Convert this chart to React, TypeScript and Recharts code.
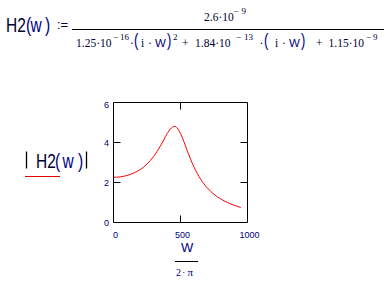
import React from 'react';
import { LineChart, Line, XAxis, YAxis } from 'recharts';

// frequency W/(2π) and |H2(w)|
const freq = [0, 50, 100, 150, 200, 250, 300, 325, 350, 375, 400, 425, 440, 450, 460, 475, 500, 525, 550, 575, 600, 625, 650, 675, 700, 750, 800, 850, 900, 950];
const magnitude = [2.26, 2.28, 2.35, 2.47, 2.65, 2.92, 3.31, 3.55, 3.83, 4.13, 4.44, 4.68, 4.77, 4.8, 4.8, 4.72, 4.45, 4.05, 3.6, 3.17, 2.78, 2.45, 2.17, 1.93, 1.73, 1.41, 1.18, 1.0, 0.86, 0.75];
const xTicks = [0, 500, 1000];
const yTicks = [0, 2, 4, 6];

const data = freq.map((f, i) => ({ f, m: magnitude[i] }));

const SANS = "'Liberation Sans', Arial, sans-serif";
const SERIF = "'Liberation Serif', 'Times New Roman', serif";
const NAVY = '#000080';
const DARK = '#000033';
const TICK = 7;

// bottom axis: props.y is the axis line (tickSize 0, tickMargin 0)
const BottomTick = (props: any) => {
  const { x, y, payload, index, visibleTicksCount } = props;
  const inner = index > 0 && index < visibleTicksCount - 1;
  return (
    <g>
      {inner && <line x1={x} x2={x} y1={y} y2={y - TICK} stroke="#000" strokeWidth={1} />}
      <text x={x + 2} y={y + 15.5} textAnchor="middle" fontSize={9} fill={NAVY} fontFamily={SANS}>
        {payload.value}
      </text>
    </g>
  );
};

const TopTick = (props: any) => {
  const { x, y, index, visibleTicksCount } = props;
  const inner = index > 0 && index < visibleTicksCount - 1;
  return inner ? <line x1={x} x2={x} y1={y} y2={y + TICK} stroke="#000" strokeWidth={1} /> : <g />;
};

const LeftTick = (props: any) => {
  const { x, y, payload, index, visibleTicksCount } = props;
  const inner = index > 0 && index < visibleTicksCount - 1;
  const shift = payload.value === 6 ? 2.5 : 0;
  return (
    <g>
      {inner && <line x1={x} x2={x + TICK} y1={y} y2={y} stroke="#000" strokeWidth={1} />}
      <text x={x - 4.5} y={y + shift} dy="0.355em" textAnchor="end" fontSize={9} fill={NAVY} fontFamily={SANS}>
        {payload.value}
      </text>
    </g>
  );
};

const RightTick = (props: any) => {
  const { x, y, index, visibleTicksCount } = props;
  const inner = index > 0 && index < visibleTicksCount - 1;
  return inner ? <line x1={x} x2={x - TICK} y1={y} y2={y} stroke="#000" strokeWidth={1} /> : <g />;
};

const Overlay = () => (
  <svg width={387} height={282} style={{ position: 'absolute', left: 0, top: 0 }}>
    {/* H2(w) := */}
    <text transform="translate(0,32) scale(1,1.35)" fontFamily={SANS} fontSize={15.5}>
      <tspan x={6} fill={DARK}>H2</tspan>
      <tspan x={26} fill={NAVY}>(</tspan>
      <tspan x={30.5} fill={NAVY}>w</tspan>
      <tspan x={45} fill={NAVY}>)</tspan>
    </text>
    <text x={57} y={29} fontFamily={SANS} fontSize={13} fill={DARK}>:=</text>

    {/* numerator */}
    <text fontFamily={SERIF} fill={DARK}>
      <tspan x={204} y={21} fontSize={11.5}>2.6·10</tspan>
      <tspan x={233.5} y={13.5} fontSize={9}>−</tspan>
      <tspan x={241.5} y={13.5} fontSize={9}>9</tspan>
    </text>
    <line x1={72} x2={384} y1={29.5} y2={29.5} stroke="#000" strokeWidth={1} />

    {/* denominator */}
    <text fontFamily={SERIF} fill={DARK} fontSize={11.5}>
      <tspan x={76} y={47}>1.25·10</tspan>
      <tspan x={113} y={39.5} fontSize={9}>−</tspan>
      <tspan x={120} y={39.5} fontSize={9}>16</tspan>
      <tspan x={130} y={47}>·</tspan>
      <tspan x={141} y={47}>i</tspan>
      <tspan x={148} y={47}>·</tspan>
      <tspan x={173} y={39.5} fontSize={9}>2</tspan>
      <tspan x={182} y={47}>+</tspan>
      <tspan x={195} y={47}>1.84·10</tspan>
      <tspan x={236} y={39.5} fontSize={9}>−</tspan>
      <tspan x={244} y={39.5} fontSize={9}>13</tspan>
      <tspan x={259.5} y={47}>·</tspan>
      <tspan x={275} y={47}>i</tspan>
      <tspan x={282} y={47}>·</tspan>
      <tspan x={316} y={47}>+</tspan>
      <tspan x={328.5} y={47}>1.15·10</tspan>
      <tspan x={366} y={39.5} fontSize={9}>−</tspan>
      <tspan x={373} y={39.5} fontSize={9}>9</tspan>
    </text>
    <text fontFamily={SANS} fill={NAVY} fontSize={11.5}>
      <tspan x={155} y={47}>W</tspan>
      <tspan x={289} y={47}>W</tspan>
    </text>
    <text transform="translate(0,46) scale(1,1.35)" fontFamily={SANS} fill={NAVY} fontSize={13}>
      <tspan x={134}>(</tspan>
      <tspan x={167}>)</tspan>
      <tspan x={264}>(</tspan>
      <tspan x={301}>)</tspan>
    </text>

    {/* |H2(w)| label */}
    <line x1={26.5} x2={26.5} y1={151.5} y2={168.5} stroke="#000" strokeWidth={1.3} />
    <text transform="translate(0,168.3) scale(1,1.35)" fontFamily={SANS} fontSize={15.5}>
      <tspan x={36} fill={DARK}>H2</tspan>
      <tspan x={55} fill={NAVY}>(</tspan>
      <tspan x={62.5} fill={NAVY}>w</tspan>
      <tspan x={78} fill={NAVY}>)</tspan>
    </text>
    <line x1={86.5} x2={86.5} y1={151.5} y2={168.5} stroke="#000" strokeWidth={1.3} />
    <line x1={25} x2={60} y1={176.5} y2={176.5} stroke="#e00000" strokeWidth={1} />

    {/* x-axis label W / (2·π) */}
    <text x={181} y={252} fontFamily={SANS} fontSize={13} fill={NAVY}>W</text>
    <line x1={175} x2={198} y1={261.5} y2={261.5} stroke="#000" strokeWidth={1} />
    <text fontFamily={SERIF} fill={NAVY} fontSize={10}>
      <tspan x={176} y={275.5}>2</tspan>
      <tspan x={182} y={275.5}>·</tspan>
      <tspan x={187.5} y={275.5} fontSize={11}>π</tspan>
    </text>
  </svg>
);

export default function App() {
  return (
    <div style={{ position: 'fixed', left: 0, top: 0, width: 387, height: 282, background: '#fff', overflow: 'hidden' }}>
      <Overlay />
      <div style={{ position: 'absolute', left: 0, top: 0 }}>
        <LineChart width={387} height={282} data={data} margin={{ top: 101.5, right: 138.5, bottom: 39.5, left: 93.5 }}>
          <XAxis
            dataKey="f"
            type="number"
            domain={[0, 1000]}
            ticks={xTicks}
            interval={0}
            allowDataOverflow
            height={20}
            tickSize={0}
            tickMargin={0}
            axisLine={{ stroke: '#000' }}
            tickLine={false}
            tick={<BottomTick />}
          />
          <XAxis
            xAxisId="top"
            orientation="top"
            dataKey="f"
            type="number"
            domain={[0, 1000]}
            ticks={xTicks}
            interval={0}
            allowDataOverflow
            height={1}
            tickSize={0}
            tickMargin={0}
            axisLine={{ stroke: '#000' }}
            tickLine={false}
            tick={<TopTick />}
          />
          <YAxis
            type="number"
            domain={[0, 6]}
            ticks={yTicks}
            interval={0}
            allowDataOverflow
            width={20}
            tickSize={0}
            tickMargin={0}
            axisLine={{ stroke: '#000' }}
            tickLine={false}
            tick={<LeftTick />}
          />
          <YAxis
            yAxisId="right"
            orientation="right"
            type="number"
            domain={[0, 6]}
            ticks={yTicks}
            interval={0}
            allowDataOverflow
            width={1}
            tickSize={0}
            tickMargin={0}
            axisLine={{ stroke: '#000' }}
            tickLine={false}
            tick={<RightTick />}
          />
          <Line
            dataKey="m"
            type="monotone"
            stroke="#ff0000"
            strokeWidth={1}
            dot={false}
            isAnimationActive={false}
          />
        </LineChart>
      </div>
    </div>
  );
}
